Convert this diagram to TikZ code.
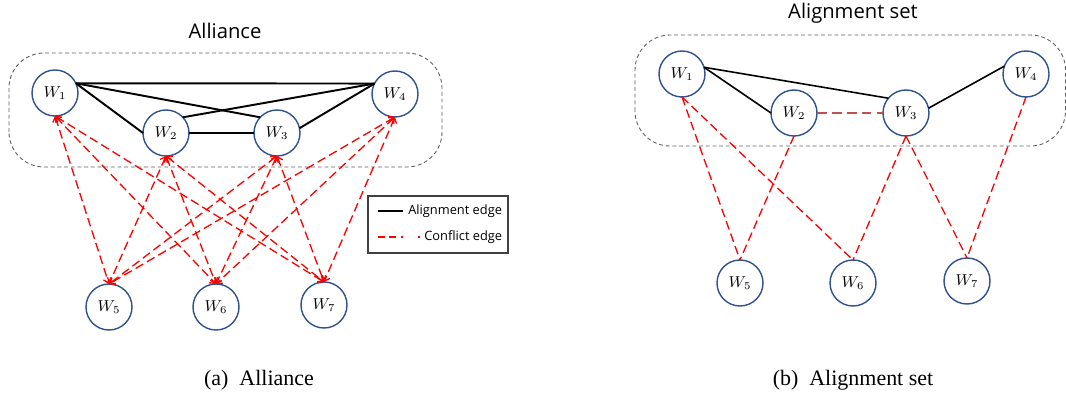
\documentclass[tikz,border=0pt]{standalone}
\usepackage{fontspec}
\setmainfont{Liberation Serif}
\newfontfamily\titlefont{Open Sans}
\usepackage{tikz}
\usepackage{tkz-graph}
\usetikzlibrary{arrows.meta}

\definecolor{nodeblue}{RGB}{47,82,143}
\definecolor{boxgray}{RGB}{95,95,95}
\definecolor{softred}{RGB}{192,80,77}

\tikzset{
  align edge/.style={black,line width=1.1pt},
  conflict edge/.style={red,line width=0.75pt,dash pattern=on 5pt off 2.5pt},
  conflict arrow/.style={conflict edge,{Straight Barb[length=2.6pt,width=4.6pt]}-{Straight Barb[length=2.6pt,width=4.6pt]}},
  group box/.style={boxgray,line width=0.5pt,dash pattern=on 2.2pt off 1.6pt,rounded corners=0.7cm},
  set title/.style={font=\titlefont\fontsize{11.5}{12}\selectfont},
  sub caption/.style={font=\fontsize{12.5}{13}\selectfont},
  key text/.style={font=\titlefont\fontsize{7.3}{9}\selectfont,anchor=west,inner sep=0pt}
}

\begin{document}
\begin{tikzpicture}
          \useasboundingbox (0,0) rectangle (21.32,7.96);
          \GraphInit[vstyle=Normal];
          \SetVertexNormal[Shape=circle,MinSize=0.92cm,LineWidth=0.8pt,LineColor=nodeblue,FillColor=white]
          \tikzset{VertexStyle/.append style={font=\fontsize{9}{10}\selectfont,inner sep=0pt}}

          % (a) alliance
          \draw[group box] (0.18,4.62) rectangle (8.84,6.90);
          \node[set title] (titleA) at (4.50,7.34) {Alliance};

          \Vertex[x=1.10,y=6.10,L=$W_1$]{a1};
          \Vertex[x=3.32,y=5.30,L=$W_2$]{a2};
          \Vertex[x=5.54,y=5.30,L=$W_3$]{a3};
          \Vertex[x=7.90,y=6.08,L=$W_4$]{a4};
          \Vertex[x=2.18,y=1.82,L=$W_5$]{a5};
          \Vertex[x=4.32,y=1.82,L=$W_6$]{a6};
          \Vertex[x=6.48,y=1.86,L=$W_7$]{a7};

          \draw[align edge] (a1.25) -- (a4.153);
          \draw[align edge] (a1.25) -- (a3.137);
          \draw[align edge] (a1.25) -- (a2.west);
          \draw[align edge] (a2.43) -- (a4.153);
          \draw[align edge] (a2.east) -- (a3.west);
          \draw[align edge] (a3.12) -- (a4.153);

          % conflict edges
          \draw[conflict arrow] (a1.south) -- (a5.north);
          \draw[conflict arrow] (a1.south) -- (a6.north);
          \draw[conflict arrow] (a1.south) -- (a7.north);
          \draw[conflict arrow] (a2.south) -- (a5.north);
          \draw[conflict arrow] (a2.south) -- (a6.north);
          \draw[conflict arrow] (a2.south) -- (a7.north);
          \draw[conflict arrow] (a3.south) -- (a5.north);
          \draw[conflict arrow] (a3.south) -- (a6.north);
          \draw[conflict arrow] (a3.south) -- (a7.north);
          \draw[conflict arrow] (a4.south) -- (a5.north);
          \draw[conflict arrow] (a4.south) -- (a6.north);
          \draw[conflict arrow] (a4.south) -- (a7.north);

          % legend
          \node[draw=black!75,line width=0.7pt,minimum width=2.8cm,minimum height=1.14cm] (key) at (8.76,3.47) {};
          \coordinate (keyA1) at (7.56,3.74);
          \coordinate (keyA2) at (8.06,3.74);
          \coordinate (keyB1) at (7.56,3.22);
          \coordinate (keyB2) at (8.40,3.22);
          \draw[black,line width=0.8pt] (keyA1) -- (keyA2);
          \draw[red,line width=0.9pt,dash pattern=on 4pt off 2.5pt on 4pt off 2.5pt on 1pt off 9pt] (keyB1) -- (keyB2);
          \node[key text] (keyAlign) at (8.16,3.74) {Alignment edge};
          \node[key text] (keyConf) at (8.48,3.22) {Conflict edge};

          \node[sub caption] (capA) at (5.18,0.36) {(a)\ \ Alliance};

          % (b) alignment set
          \draw[group box] (12.70,5.04) rectangle (21.31,7.26);
          \node[set title] (titleB) at (17.06,7.70) {Alignment set};

          \Vertex[x=13.64,y=6.48,L=$W_1$]{b1};
          \Vertex[x=15.88,y=5.70,L=$W_2$]{b2};
          \Vertex[x=18.12,y=5.70,L=$W_3$]{b3};
          \Vertex[x=20.52,y=6.48,L=$W_4$]{b4};
          \Vertex[x=14.80,y=2.30,L=$W_5$]{b5};
          \Vertex[x=17.06,y=2.30,L=$W_6$]{b6};
          \Vertex[x=19.34,y=2.34,L=$W_7$]{b7};

          \draw[align edge,line width=0.9pt] (b1.17) -- (b2.west);
          \draw[align edge,line width=0.9pt] (b1.17) -- (b3.140);
          \draw[align edge,line width=0.9pt] (b3.12) -- (b4.160);
          \draw[softred,line width=1.1pt,dash pattern=on 5.5pt off 3pt] (b2.east) -- (b3.west);

          \draw[conflict edge] (b1.south) -- (b5.north);
          \draw[conflict edge] (b1.south) -- (b6.north);
          \draw[conflict edge] (b2.south) -- (b5.north);
          \draw[conflict edge] (b3.south) -- (b6.north);
          \draw[conflict edge] (b3.south) -- (b7.north);
          \draw[conflict edge] (b4.south) -- (b7.north);

          \node[sub caption] (capB) at (17.06,0.36) {(b)\ \ Alignment set};
        \end{tikzpicture}
\end{document}
